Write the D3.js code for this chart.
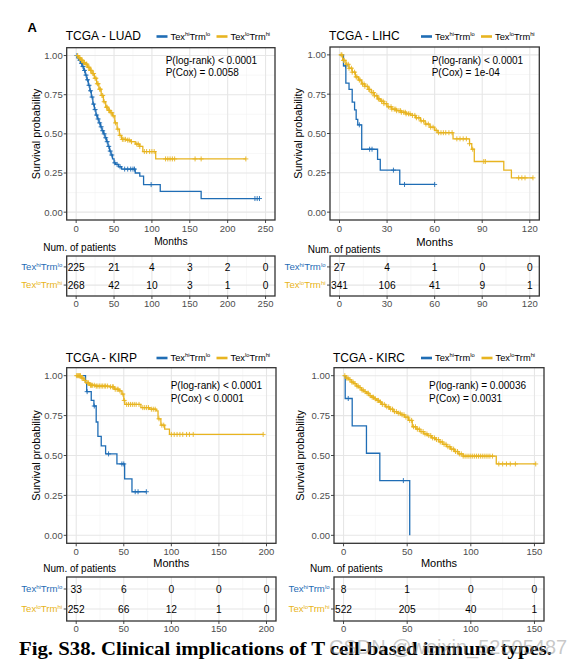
<!DOCTYPE html>
<html><head><meta charset="utf-8">
<script src="https://cdn.jsdelivr.net/npm/d3@7"></script>
<style>body{margin:0;background:#fff}svg{display:block;font-family:"Liberation Sans",Arial,sans-serif}</style>
</head><body>
<svg id="c" width="575" height="660"></svg>
<script>
// ---------------- DATA ----------------
const groupSup = [["hi","lo"],["lo","hi"]];   // Tex^a Trm^b  (blue, yellow)
const yTicks = [0, 0.25, 0.5, 0.75, 1];
const yTickLabels = ["0.00","0.25","0.50","0.75","1.00"];

// LUAD
const luadTicks = [0,50,100,150,200,250];
const luadHiT = [0,2,4,6,8,10,12,14,16,18,20,22,24,26,28,30,32,34,36,38,40,42,44,46,48,50,52,56,60,78,84,89,111,165];
const luadHiS = [1,0.985,0.97,0.95,0.93,0.905,0.875,0.845,0.81,0.775,0.735,0.69,0.655,0.62,0.595,0.57,0.545,0.52,0.50,0.475,0.45,0.42,0.39,0.365,0.34,0.315,0.305,0.29,0.275,0.25,0.23,0.176,0.133,0.087];
const luadHiEnd = 242;
const luadHiCens = [1,3,5,7,9,11,13,15,17,19,21,23,25,27,29,31,33,35,37,39,41,43,45,47,51,54,58,64,68,72,75,77,99,236,239,242];
const luadLoT = [0,3,6,9,12,15,18,21,24,27,30,33,36,39,42,45,48,51,54,57,60,66,72,78,84,88,105];
const luadLoS = [1,0.985,0.97,0.955,0.945,0.925,0.905,0.885,0.855,0.82,0.785,0.745,0.705,0.67,0.65,0.635,0.615,0.57,0.53,0.49,0.465,0.46,0.45,0.435,0.42,0.387,0.34];
const luadLoEnd = 224;
const luadLoCens = [2,4,5,7,8,10,11,13,14,16,17,19,20,22,23,25,26,28,29,31,32,34,35,37,40,41,43,44,46,47,49,52,55,58,61,63,65,68,70,73,80,82,84,90,93,97,100,103,118,121,124,127,130,157,165,224];
const luadRiskHi = [225,21,4,3,2,0];
const luadRiskLo = [268,42,10,3,1,0];

// LIHC
const lihcTicks = [0,30,60,90,120];
const lihcHiT = [0,2.5,4,6,8,9.5,10.5,11.5,14,24,25.7,38];
const lihcHiS = [1,0.93,0.82,0.78,0.70,0.65,0.59,0.555,0.40,0.335,0.267,0.176];
const lihcHiEnd = 60;
const lihcHiCens = [3.8,12.5,19,20.5,34,41,60];
const lihcLoT = [0,2,4,6,8,10,12,14,16,18,20,22,24,26,28,30,33,36,39,42,45,48,51,54,57,60,62,71.6,82,83.4,85,103.6,108.4];
const lihcLoS = [1,0.965,0.94,0.915,0.89,0.86,0.84,0.815,0.80,0.78,0.76,0.74,0.72,0.705,0.69,0.67,0.655,0.645,0.635,0.625,0.615,0.60,0.58,0.56,0.54,0.52,0.505,0.466,0.435,0.40,0.322,0.267,0.218];
const lihcLoEnd = 122;
const lihcLoCens = [1,1.5,2.5,3,4.5,5.5,6,7.5,8,9.5,10.5,11,12.5,13,14.5,15.5,16,17.5,18.5,19,20.5,21.5,22,23.5,24.5,25,26.5,27.5,28,29.5,31,32.5,33,34.5,35.5,36,37.5,38.5,39,40.5,41.5,42,43.5,44.5,46,47.5,48.5,50,51.5,53,54.5,56,57.5,59,61,62.5,64,65.5,67,69,71,74,76,78,80,82,84,91,92,113,115,117,122];
const lihcRiskHi = [27,4,1,0,0];
const lihcRiskLo = [341,106,41,9,1];

// KIRP
const kirpTicks = [0,50,100,150,200];
const kirpHiT = [0,9.8,11,15.8,18.6,21,22.8,26.3,30.9,42.8,50.9,58.6];
const kirpHiS = [1,0.958,0.90,0.845,0.81,0.71,0.62,0.56,0.51,0.447,0.353,0.273];
const kirpHiEnd = 73.7;
const kirpHiCens = [11.5,19,34,48,50,62,65,73.7];
const kirpLoT = [0,5.5,8,10,14,20,35,40,45,48,50,51,68,77,84,86,89,93,98];
const kirpLoS = [1,0.985,0.97,0.955,0.94,0.935,0.93,0.915,0.905,0.885,0.845,0.82,0.80,0.79,0.78,0.73,0.69,0.665,0.632];
const kirpLoEnd = 196.5;
const kirpLoCens = [0.5,1.5,2.5,3.5,4.5,6,7,9,12,13,15,16,17,19,21,22,24,25,27,28,30,31,33,36,38,39,41,43,44,46,49,50.5,53,55,57,59,61,63,66,70,72,74,76,79,81,83,87,90,92,100,103,106,109,112,116,119,123,196.5];
const kirpRiskHi = [33,6,0,0,0];
const kirpRiskLo = [252,66,12,1,0];

// KIRC
const kircTicks = [0,50,100,150];
const kircHiT = [0,1.3,6.8,18,28.5,52];
const kircHiS = [1,0.857,0.686,0.514,0.343,0];
const kircHiEnd = 52;
const kircHiCens = [3.7,47];
const kircLoT = [0,2,4,6,8,10,12,14,16,18,20,22,24,26,28,30,33,36,39,42,45,48,51,54,57,60,63,66,69,72,75,78,81,84,87,90,94,120];
const kircLoS = [1,0.985,0.975,0.96,0.95,0.935,0.925,0.91,0.90,0.89,0.875,0.865,0.855,0.845,0.835,0.82,0.805,0.79,0.775,0.765,0.755,0.74,0.72,0.68,0.665,0.65,0.635,0.625,0.61,0.60,0.585,0.57,0.555,0.54,0.525,0.51,0.496,0.447];
const kircLoEnd = 151;
const kircLoCens = [1,2.5,3.5,5,6.5,7.5,9,10.5,11.5,13,14.5,15.5,17,18.5,19.5,21,22.5,23.5,25,26.5,27.5,29,30.5,32,34,35.5,37,38.5,40,41.5,43,44.5,46,47.5,49,50.5,52,53.5,55,56.5,58,59.5,61,62.5,64,65.5,67,68.5,70,71.5,73,74.5,76,77.5,79,80.5,82,83.5,85,86.5,88,89.5,91,92.5,94,95.5,97,98.5,100,101.5,103,104.5,106,107.5,109,110.5,112,113.5,115,117,122,125,128,131,135,151];
const kircRiskHi = [8,1,0,0];
const kircRiskLo = [522,205,40,1];

// ---------------- DRAWING ----------------
const BLUE = "#1F6DB5", YELLOW = "#E8B420";
const svg = d3.select("#c");
svg.append("rect").attr("width",575).attr("height",660).attr("fill","#fff");

function survAt(T,S,t){ let v=S[0]; for(let i=0;i<T.length;i++){ if(T[i]<=t) v=S[i]; } return v; }

function texLabel(sel,x,y,sup,size,color,anchor){
  const t = sel.append("text").attr("x",x).attr("y",y).attr("font-size",size).attr("fill",color).attr("text-anchor",anchor);
  const d = size*0.38;
  t.append("tspan").text("Tex");
  t.append("tspan").attr("dy",-d).attr("font-size",size*0.62).text(sup[0]);
  t.append("tspan").attr("dy",d).text("Trm");
  t.append("tspan").attr("dy",-d).attr("font-size",size*0.62).text(sup[1]);
  return t;
}

function midpoints(ticks){ const m=[]; for(let i=0;i<ticks.length-1;i++) m.push((ticks[i]+ticks[i+1])/2); return m; }

function drawPanel(p){
  const g = svg.append("g");
  const xmax = p.ticks[p.ticks.length-1];
  const x = d3.scaleLinear().domain([-0.05*xmax, 1.05*xmax]).range([p.L,p.R]);
  const y = d3.scaleLinear().domain([-0.05,1.05]).range([p.B,p.T]);

  // grids
  const grid = g.append("g");
  midpoints(p.ticks).forEach(v=>grid.append("line").attr("x1",x(v)).attr("x2",x(v)).attr("y1",p.T).attr("y2",p.B).attr("stroke","#f2f2f2").attr("stroke-width",0.6));
  midpoints(yTicks).forEach(v=>grid.append("line").attr("y1",y(v)).attr("y2",y(v)).attr("x1",p.L).attr("x2",p.R).attr("stroke","#f2f2f2").attr("stroke-width",0.6));
  p.ticks.forEach(v=>grid.append("line").attr("x1",x(v)).attr("x2",x(v)).attr("y1",p.T).attr("y2",p.B).attr("stroke","#e6e6e6").attr("stroke-width",1.1));
  yTicks.forEach(v=>grid.append("line").attr("y1",y(v)).attr("y2",y(v)).attr("x1",p.L).attr("x2",p.R).attr("stroke","#e6e6e6").attr("stroke-width",1.1));

  // curves
  const line = d3.line().x(d=>x(d[0])).y(d=>y(d[1])).curve(d3.curveStepAfter);
  p.series.forEach(s=>{
    const pts = s.T.map((t,i)=>[t,s.S[i]]);
    pts.push([s.end, s.S[s.S.length-1]]);
    g.append("path").attr("d",line(pts)).attr("fill","none").attr("stroke",s.color).attr("stroke-width",1.3);
    const cg = g.append("g").attr("stroke",s.color).attr("stroke-width",0.9);
    s.cens.forEach(c=>{
      const cx=x(c), cy=y(survAt(s.T,s.S,c));
      cg.append("path").attr("d",`M${cx-2.5},${cy}h5M${cx},${cy-2.5}v5`);
    });
  });

  // border
  g.append("rect").attr("x",p.L).attr("y",p.T).attr("width",p.R-p.L).attr("height",p.B-p.T).attr("fill","none").attr("stroke","#333").attr("stroke-width",1.3);

  // axes
  const ax = g.append("g").attr("font-size",9.5).attr("fill","#4d4d4d");
  yTicks.forEach((v,i)=>{
    ax.append("line").attr("x1",p.L-3).attr("x2",p.L).attr("y1",y(v)).attr("y2",y(v)).attr("stroke","#333").attr("stroke-width",0.9);
    ax.append("text").attr("x",p.L-4).attr("y",y(v)+3.4).attr("text-anchor","end").text(yTickLabels[i]);
  });
  p.ticks.forEach(v=>{
    ax.append("line").attr("x1",x(v)).attr("x2",x(v)).attr("y1",p.B).attr("y2",p.B+3).attr("stroke","#333").attr("stroke-width",0.9);
    ax.append("text").attr("x",x(v)).attr("y",p.B+11.5).attr("text-anchor","middle").text(v);
  });
  g.append("text").attr("transform",`translate(${p.ylabX},${(p.T+p.B)/2}) rotate(-90)`).attr("text-anchor","middle").attr("font-size",10.8).attr("fill","#000").text("Survival probability");
  g.append("text").attr("x",(p.L+p.R)/2).attr("y",p.monthsY).attr("text-anchor","middle").attr("font-size",p.monthsSize).attr("fill","#000").text("Months");

  // title & legend
  g.append("text").attr("x",p.L-1).attr("y",p.titleY).attr("font-size",12).attr("fill","#000").text(p.title);
  p.series.forEach((s,i)=>{
    g.append("line").attr("x1",p.legX[i]).attr("x2",p.legX[i]+11).attr("y1",p.titleY-3.5).attr("y2",p.titleY-3.5).attr("stroke",s.color).attr("stroke-width",2.6);
    texLabel(g,p.legX[i]+14,p.titleY-0.5,groupSup[i],9.3,"#000","start");
  });
  // p values
  g.append("text").attr("x",p.pX).attr("y",p.pY).attr("font-size",10).attr("fill","#000").text(p.p1);
  g.append("text").attr("x",p.pX).attr("y",p.pY+12.5).attr("font-size",10).attr("fill","#000").text(p.p2);

  // risk table
  const tb = svg.append("g");
  const ry = d3.scalePoint().domain([0,1]).range([p.tT,p.tB]).padding(0.6);
  midpoints(p.ticks).forEach(v=>tb.append("line").attr("x1",x(v)).attr("x2",x(v)).attr("y1",p.tT).attr("y2",p.tB).attr("stroke","#f2f2f2").attr("stroke-width",0.6));
  p.ticks.forEach(v=>tb.append("line").attr("x1",x(v)).attr("x2",x(v)).attr("y1",p.tT).attr("y2",p.tB).attr("stroke","#e6e6e6").attr("stroke-width",1.1));
  [0,1].forEach(r=>tb.append("line").attr("x1",p.L).attr("x2",p.R).attr("y1",ry(r)).attr("y2",ry(r)).attr("stroke","#e6e6e6").attr("stroke-width",1.1));
  p.risk.forEach((row,r)=>{
    row.forEach((n,i)=>{
      tb.append("text").attr("x",x(p.ticks[i])).attr("y",ry(r)+3.6).attr("text-anchor","middle").attr("font-size",10.2).attr("fill","#000").text(n);
    });
    tb.append("line").attr("x1",p.L-3).attr("x2",p.L).attr("y1",ry(r)).attr("y2",ry(r)).attr("stroke","#333").attr("stroke-width",0.9);
    texLabel(tb,p.L-4.5,ry(r)+3.3,groupSup[r],9.6,p.series[r].color,"end");
  });
  tb.append("rect").attr("x",p.L).attr("y",p.tT).attr("width",p.R-p.L).attr("height",p.tB-p.tT).attr("fill","none").attr("stroke","#333").attr("stroke-width",1.3);
  p.ticks.forEach(v=>{
    tb.append("line").attr("x1",x(v)).attr("x2",x(v)).attr("y1",p.tB).attr("y2",p.tB+3).attr("stroke","#333").attr("stroke-width",0.9);
    tb.append("text").attr("x",x(v)).attr("y",p.tB+11).attr("text-anchor","middle").attr("font-size",9.5).attr("fill","#4d4d4d").text(v);
  });
  tb.append("text").attr("x",p.numX).attr("y",p.numY).attr("font-size",10).attr("fill","#000").text("Num. of patients");
}

drawPanel({title:"TCGA - LUAD", ticks:luadTicks, L:66.7,R:275,T:47.7,B:220, tT:256,tB:296,
  titleY:40, legX:[156.5,216.5], pX:165.7, pY:63.5, p1:"P(log-rank) < 0.0001", p2:"P(Cox) = 0.0058",
  ylabX:39.5, monthsY:245, monthsSize:10.2, numX:43.3, numY:251,
  series:[{T:luadHiT,S:luadHiS,end:luadHiEnd,cens:luadHiCens,color:BLUE},{T:luadLoT,S:luadLoS,end:luadLoEnd,cens:luadLoCens,color:YELLOW}],
  risk:[luadRiskHi,luadRiskLo]});
drawPanel({title:"TCGA - LIHC", ticks:lihcTicks, L:330,R:539.3,T:47,B:220, tT:256,tB:296,
  titleY:40, legX:[421,481], pX:431.7, pY:63.5, p1:"P(log-rank) < 0.0001", p2:"P(Cox) = 1e-04",
  ylabX:301.5, monthsY:245.5, monthsSize:11.2, numX:307.7, numY:252.5,
  series:[{T:lihcHiT,S:lihcHiS,end:lihcHiEnd,cens:lihcHiCens,color:BLUE},{T:lihcLoT,S:lihcLoS,end:lihcLoEnd,cens:lihcLoCens,color:YELLOW}],
  risk:[lihcRiskHi,lihcRiskLo]});
drawPanel({title:"TCGA - KIRP", ticks:kirpTicks, L:66.7,R:276,T:367.7,B:543.3, tT:577,tB:621,
  titleY:361.5, legX:[156.5,216.5], pX:170.7, pY:389, p1:"P(log-rank) < 0.0001", p2:"P(Cox) < 0.0001",
  ylabX:39.5, monthsY:567, monthsSize:11, numX:43.3, numY:572,
  series:[{T:kirpHiT,S:kirpHiS,end:kirpHiEnd,cens:kirpHiCens,color:BLUE},{T:kirpLoT,S:kirpLoS,end:kirpLoEnd,cens:kirpLoCens,color:YELLOW}],
  risk:[kirpRiskHi,kirpRiskLo]});
drawPanel({title:"TCGA - KIRC", ticks:kircTicks, L:334,R:544,T:367.7,B:543.3, tT:577,tB:621,
  titleY:361.5, legX:[421,481.5], pX:429, pY:389, p1:"P(log-rank) = 0.00036", p2:"P(Cox) = 0.0031",
  ylabX:303.5, monthsY:567, monthsSize:11, numX:310, numY:572,
  series:[{T:kircHiT,S:kircHiS,end:kircHiEnd,cens:kircHiCens,color:BLUE},{T:kircLoT,S:kircLoS,end:kircLoEnd,cens:kircLoCens,color:YELLOW}],
  risk:[kircRiskHi,kircRiskLo]});

// panel letter, caption, watermark
svg.append("text").attr("x",27.5).attr("y",31.5).attr("font-size",13).attr("font-weight","bold").attr("fill","#000").text("A");
svg.append("text").attr("x",19).attr("y",655).attr("font-family","'Liberation Serif','Times New Roman',serif").attr("font-size",19).attr("font-weight","bold").attr("fill","#000")
  .attr("textLength",533).attr("lengthAdjust","spacingAndGlyphs").text("Fig. S38. Clinical implications of T cell-based immune types.");
svg.append("text").attr("x",329).attr("y",654).attr("font-size",20).attr("fill","#9a9a9a").attr("fill-opacity",0.55).text("CSDN @weixin_52505487");
</script>
</body></html>
